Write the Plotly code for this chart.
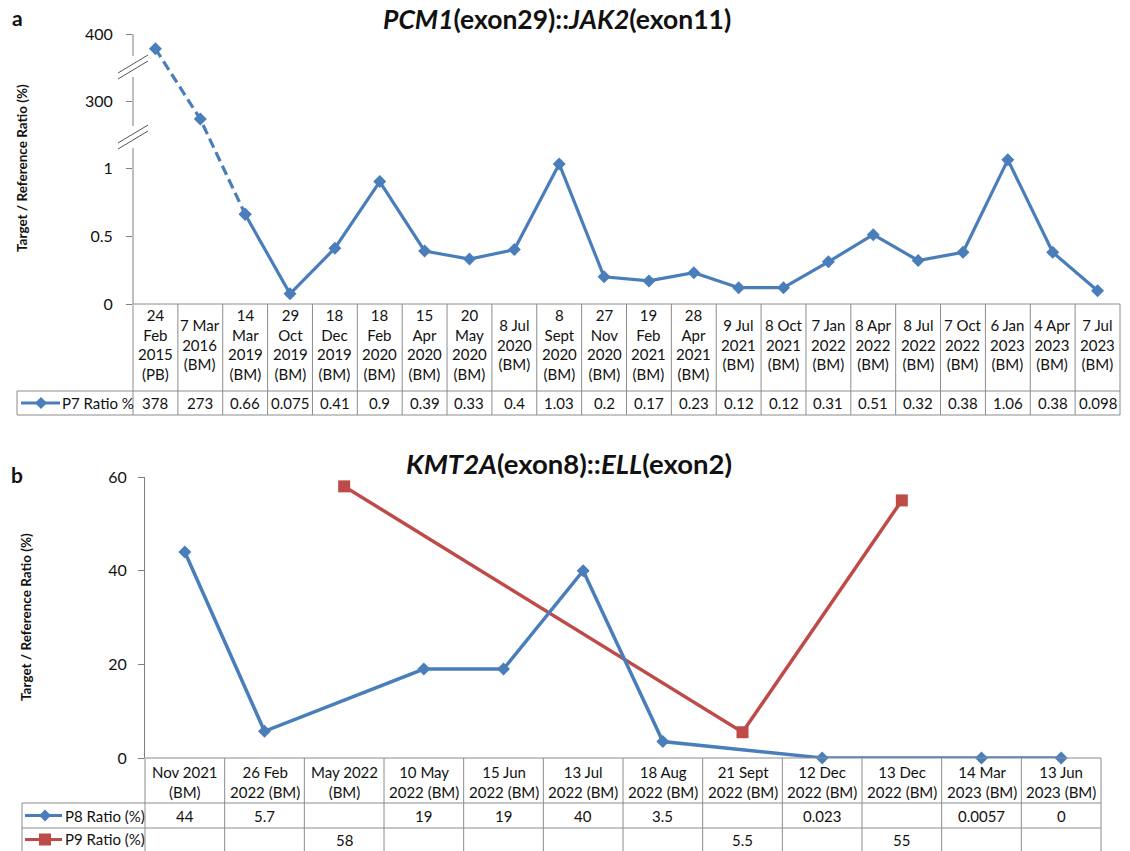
import plotly.graph_objects as go

W, H = 1130, 851
FONT = "Lato"
BLUE = "#4A7EBB"
RED = "#BE4B48"
GRID = "#8C8C8C"

# ---------------- data ----------------
# Panel a: PCM1::JAK2, patient P7
dates_a = [
    "24<br>Feb<br>2015<br>(PB)", "7 Mar<br>2016<br>(BM)", "14<br>Mar<br>2019<br>(BM)",
    "29<br>Oct<br>2019<br>(BM)", "18<br>Dec<br>2019<br>(BM)", "18<br>Feb<br>2020<br>(BM)",
    "15<br>Apr<br>2020<br>(BM)", "20<br>May<br>2020<br>(BM)", "8 Jul<br>2020<br>(BM)",
    "8<br>Sept<br>2020<br>(BM)", "27<br>Nov<br>2020<br>(BM)", "19<br>Feb<br>2021<br>(BM)",
    "28<br>Apr<br>2021<br>(BM)", "9 Jul<br>2021<br>(BM)", "8 Oct<br>2021<br>(BM)",
    "7 Jan<br>2022<br>(BM)", "8 Apr<br>2022<br>(BM)", "8 Jul<br>2022<br>(BM)",
    "7 Oct<br>2022<br>(BM)", "6 Jan<br>2023<br>(BM)", "4 Apr<br>2023<br>(BM)",
    "7 Jul<br>2023<br>(BM)",
]
p7_ratio = [378, 273, 0.66, 0.075, 0.41, 0.9, 0.39, 0.33, 0.4, 1.03, 0.2, 0.17,
            0.23, 0.12, 0.12, 0.31, 0.51, 0.32, 0.38, 1.06, 0.38, 0.098]
ytick_a = [0, 0.5, 1, 300, 400]

# Panel b: KMT2A::ELL, patients P8 and P9
dates_b = [
    "Nov 2021<br>(BM)", "26 Feb<br>2022 (BM)", "May 2022<br>(BM)", "10 May<br>2022 (BM)",
    "15 Jun<br>2022 (BM)", "13 Jul<br>2022 (BM)", "18 Aug<br>2022 (BM)", "21 Sept<br>2022 (BM)",
    "12 Dec<br>2022 (BM)", "13 Dec<br>2022 (BM)", "14 Mar<br>2023 (BM)", "13 Jun<br>2023 (BM)",
]
p8_ratio = [44, 5.7, None, 19, 19, 40, 3.5, None, 0.023, None, 0.0057, 0]
p9_ratio = [None, None, 58, None, None, None, None, 5.5, None, 55, None, None]
ytick_b = [0, 20, 40, 60]

# ---------------- geometry (pixels) ----------------
A_LEFT, A_RIGHT, A_TOP, A_ZERO = 133, 1120, 34, 304
A_HEAD_BOT, A_ROW_BOT, A_LAB_LEFT = 391, 415, 17
B_LEFT, B_RIGHT, B_TOP, B_ZERO = 145, 1101, 477, 758
B_HEAD_BOT, B_ROW1_BOT, B_ROW2_BOT, B_LAB_LEFT = 803, 828, 853, 22

PX_PER_UNIT = (A_ZERO - 168) / 1.0          # lower (0..1) segment scale
D300 = (A_ZERO - 101) / PX_PER_UNIT          # display position of the 300 tick
D400 = (A_ZERO - A_TOP) / PX_PER_UNIT        # display position of the 400 tick


def broken(v):
    """Map a ratio onto the broken y axis of panel a."""
    if v <= 2:
        return v
    return D300 + (v - 300) * (D400 - D300) / 100.0


def px(x):
    return x / W


def py(y):
    return 1 - y / H


def fmt(v):
    return "" if v is None else f"{v:g}"


fig = go.Figure()

# ---------------- panel a traces ----------------
xa = list(range(len(p7_ratio)))
ya = [broken(v) for v in p7_ratio]
fig.add_trace(go.Scatter(
    x=xa[:3], y=ya[:3], mode="lines+markers", xaxis="x", yaxis="y",
    line=dict(color=BLUE, width=3.2, dash="10px,5px"),
    marker=dict(symbol="diamond", size=10, color=BLUE), cliponaxis=False, showlegend=False))
fig.add_trace(go.Scatter(
    x=xa[2:], y=ya[2:], mode="lines+markers", xaxis="x", yaxis="y",
    line=dict(color=BLUE, width=3.2),
    marker=dict(symbol="diamond", size=10, color=BLUE), cliponaxis=False, showlegend=False))

# ---------------- panel b traces ----------------
xb = list(range(len(dates_b)))
fig.add_trace(go.Scatter(
    x=xb, y=p9_ratio, mode="lines+markers", xaxis="x2", yaxis="y2", connectgaps=True,
    line=dict(color=RED, width=3.5),
    marker=dict(symbol="square", size=12, color=RED), cliponaxis=False, showlegend=False))
fig.add_trace(go.Scatter(
    x=xb, y=p8_ratio, mode="lines+markers", xaxis="x2", yaxis="y2", connectgaps=True,
    line=dict(color=BLUE, width=3.5),
    marker=dict(symbol="diamond", size=10, color=BLUE), cliponaxis=False, showlegend=False))

shapes = []
ann = []


def hline(x0, x1, y, color=GRID, w=1):
    shapes.append(dict(type="line", xref="paper", yref="paper", x0=px(x0), x1=px(x1),
                       y0=py(y), y1=py(y), line=dict(color=color, width=w)))


def vline(x, y0, y1, color=GRID, w=1):
    shapes.append(dict(type="line", xref="paper", yref="paper", x0=px(x), x1=px(x),
                       y0=py(y0), y1=py(y1), line=dict(color=color, width=w)))


def seg(x0, y0, x1, y1, color, w):
    shapes.append(dict(type="line", xref="paper", yref="paper", x0=px(x0), x1=px(x1),
                       y0=py(y0), y1=py(y1), line=dict(color=color, width=w)))


def diamond(cx, cy, r, color):
    path = (f"M {px(cx - r)},{py(cy)} L {px(cx)},{py(cy - r)} "
            f"L {px(cx + r)},{py(cy)} L {px(cx)},{py(cy + r)} Z")
    shapes.append(dict(type="path", xref="paper", yref="paper", path=path,
                       fillcolor=color, line=dict(width=0)))


def square(cx, cy, r, color):
    shapes.append(dict(type="rect", xref="paper", yref="paper", x0=px(cx - r), x1=px(cx + r),
                       y0=py(cy + r), y1=py(cy - r), fillcolor=color, line=dict(width=0)))


def text(x, y, s, size=15, xanchor="center", **kw):
    ann.append(dict(xref="paper", yref="paper", x=px(x), y=py(y), text=s, showarrow=False,
                    xanchor=xanchor, yanchor="middle", align="center",
                    font=dict(family=FONT, size=size, color="#111111"), **kw))


# ---------------- panel a: broken y axis line ----------------
AX = "#7F7F7F"
vline(A_LEFT, A_TOP, 56, AX)
vline(A_LEFT, 77, 126, AX)
vline(A_LEFT, 148, A_ZERO, AX)
for cy in (64, 70, 134, 140):
    seg(A_LEFT - 15, cy + 9, A_LEFT + 15, cy - 9, "#555555", 1)

# ---------------- panel a: data table ----------------
ncol_a = len(dates_a)
cw_a = (A_RIGHT - A_LEFT) / ncol_a
hline(A_LEFT, A_RIGHT, A_ZERO)
hline(A_LAB_LEFT, A_RIGHT, A_HEAD_BOT)
hline(A_LAB_LEFT, A_RIGHT, A_ROW_BOT)
vline(A_LAB_LEFT, A_HEAD_BOT, A_ROW_BOT)
for k in range(ncol_a + 1):
    vline(A_LEFT + k * cw_a, A_ZERO, A_ROW_BOT)
for k, (lab, v) in enumerate(zip(dates_a, p7_ratio)):
    cx = A_LEFT + (k + 0.5) * cw_a
    text(cx, (A_ZERO + A_HEAD_BOT) / 2 - 3, lab, size=15)
    text(cx, (A_HEAD_BOT + A_ROW_BOT) / 2, fmt(v), size=15)
ya_row = (A_HEAD_BOT + A_ROW_BOT) / 2
seg(21, ya_row, 60, ya_row, BLUE, 3)
diamond(41, ya_row, 6, BLUE)
text(60, ya_row, "P7 Ratio %", size=15, xanchor="left")

# ---------------- panel b: data table ----------------
ncol_b = len(dates_b)
cw_b = (B_RIGHT - B_LEFT) / ncol_b
hline(B_LEFT, B_RIGHT, B_ZERO)
hline(B_LAB_LEFT, B_RIGHT, B_HEAD_BOT)
hline(B_LAB_LEFT, B_RIGHT, B_ROW1_BOT)
vline(B_LAB_LEFT, B_HEAD_BOT, B_ROW2_BOT)
for k in range(ncol_b + 1):
    vline(B_LEFT + k * cw_b, B_ZERO, B_ROW2_BOT)
for k, (lab, v8, v9) in enumerate(zip(dates_b, p8_ratio, p9_ratio)):
    cx = B_LEFT + (k + 0.5) * cw_b
    text(cx, (B_ZERO + B_HEAD_BOT) / 2 + 1, lab, size=15)
    text(cx, (B_HEAD_BOT + B_ROW1_BOT) / 2, fmt(v8), size=15)
    text(cx, (B_ROW1_BOT + B_ROW2_BOT) / 2 - 1, fmt(v9), size=15)
y8 = (B_HEAD_BOT + B_ROW1_BOT) / 2
y9 = (B_ROW1_BOT + 851) / 2
seg(25, y8, 62, y8, BLUE, 3)
diamond(45, y8, 6, BLUE)
text(63, y8, "P8 Ratio (%)", size=15, xanchor="left")
seg(25, y9, 62, y9, RED, 3)
square(45, y9, 6, RED)
text(63, y9 - 1, "P9 Ratio (%)", size=15, xanchor="left")

# ---------------- titles and labels ----------------
text(557, 19, "<b><i>PCM1</i>(exon29)::<i>JAK2</i>(exon11)</b>", size=26.5)
text(569, 463, "<b><i>KMT2A</i>(exon8)::<i>ELL</i>(exon2)</b>", size=27.5)
text(17, 17, "<b>a</b>", size=21)
text(17, 474, "<b>b</b>", size=21)
ann.append(dict(xref="paper", yref="paper", x=px(22), y=py(168), text="<b>Target / Reference Ratio (%)</b>",
                showarrow=False, textangle=-90, xanchor="center", yanchor="middle",
                font=dict(family=FONT, size=13.5, color="#111111")))
ann.append(dict(xref="paper", yref="paper", x=px(26), y=py(617), text="<b>Target / Reference Ratio (%)</b>",
                showarrow=False, textangle=-90, xanchor="center", yanchor="middle",
                font=dict(family=FONT, size=13.5, color="#111111")))

tickfont = dict(family=FONT, size=16, color="#111111")
fig.update_layout(
    width=W, height=H, margin=dict(l=0, r=0, t=0, b=0, pad=0, autoexpand=False),
    paper_bgcolor="white", plot_bgcolor="white",
    xaxis=dict(domain=[px(A_LEFT), px(A_RIGHT)], range=[-0.5, ncol_a - 0.5], visible=False,
               anchor="y", automargin=False),
    yaxis=dict(domain=[py(A_ZERO), py(A_TOP)], range=[0, D400], anchor="x", automargin=False,
               tickvals=[broken(v) for v in ytick_a], ticktext=[fmt(v) for v in ytick_a],
               showline=False, showgrid=False, zeroline=False, ticks="outside", ticklen=6,
               tickcolor=AX, tickfont=tickfont, ticklabelstandoff=10),
    xaxis2=dict(domain=[px(B_LEFT), px(B_RIGHT)], range=[-0.5, ncol_b - 0.5], visible=False,
                anchor="y2", automargin=False),
    yaxis2=dict(domain=[py(B_ZERO), py(B_TOP)], range=[0, 60], anchor="x2", automargin=False,
                tickvals=ytick_b, showline=True, linecolor=AX, linewidth=1,
                showgrid=False, zeroline=False, ticks="outside", ticklen=6,
                tickcolor=AX, tickfont=tickfont, ticklabelstandoff=8),
    shapes=shapes, annotations=ann,
)

fig.write_html("out.html")
